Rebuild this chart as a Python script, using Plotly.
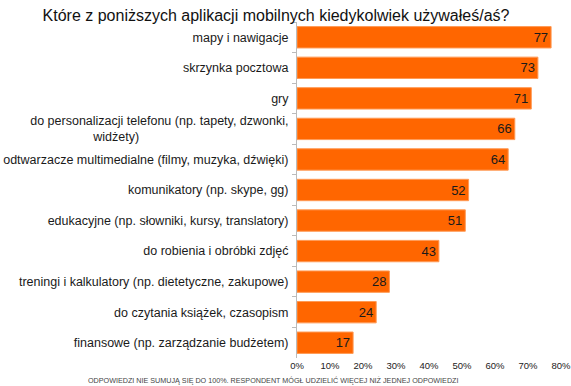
import plotly.graph_objects as go

categories = [
    "mapy i nawigacje",
    "skrzynka pocztowa",
    "gry",
    "do personalizacji telefonu (np. tapety, dzwonki,<br>widżety)",
    "odtwarzacze multimedialne (filmy, muzyka, dźwięki)",
    "komunikatory (np. skype, gg)",
    "edukacyjne (np. słowniki, kursy, translatory)",
    "do robienia i obróbki zdjęć",
    "treningi i kalkulatory (np. dietetyczne, zakupowe)",
    "do czytania książek, czasopism",
    "finansowe (np. zarządzanie budżetem)",
]
values = [77, 73, 71, 66, 64, 52, 51, 43, 28, 24, 17]
x_ticks = [0, 10, 20, 30, 40, 50, 60, 70, 80]
x_tick_labels = ["0%", "10%", "20%", "30%", "40%", "50%", "60%", "70%", "80%"]
title = "Które z poniższych aplikacji mobilnych kiedykolwiek używałeś/aś?"
footnote = "ODPOWIEDZI NIE SUMUJĄ SIĘ DO 100%. RESPONDENT MÓGŁ UDZIELIĆ WIĘCEJ NIŻ JEDNEJ ODPOWIEDZI"

# center the second line of the wrapped label
display_cats = [c.replace("<br>widżety)", "<br>widżety)" + "\u00a0" * 43) for c in categories]

fig = go.Figure(go.Bar(
    x=values,
    y=display_cats,
    orientation="h",
    marker=dict(color="#FF6600", line=dict(color="#FF9A55", width=1)),
    text=[str(v) for v in values],
    textposition="inside",
    insidetextanchor="end",
    textfont=dict(family="Liberation Sans, Arial", size=13, color="#1a1a1a"),
    cliponaxis=False,
))

L, R, T, B = 297, 10, 22, 28
fig.update_layout(
    width=571, height=386,
    margin=dict(l=L, r=R, t=T, b=B, autoexpand=False),
    paper_bgcolor="white", plot_bgcolor="white",
    bargap=0.3,
    showlegend=False,
    font=dict(family="Liberation Sans, Arial", color="#1a1a1a"),
    title=dict(text=title, x=276 / 571, xanchor="center", yref="container",
               y=1 - 20.5 / 386, yanchor="bottom", pad=dict(t=0, b=0),
               font=dict(size=16, color="#111111")),
    xaxis=dict(range=[0, 80.0001], tickvals=x_ticks, ticktext=x_tick_labels,
               showgrid=False, zeroline=False, showline=False, ticks="",
               automargin=False, ticklabeloverflow="allow",
               tickfont=dict(size=9.5, color="#222222"), fixedrange=True),
    yaxis=dict(categoryorder="array", categoryarray=display_cats, autorange="reversed",
               showline=True, linecolor="#BBBBBB", linewidth=1,
               ticks="outside", tickson="boundaries", ticklen=4, tickcolor="#BBBBBB",
               ticklabelstandoff=5, automargin=False,
               tickfont=dict(size=12.5, color="#1a1a1a"), showgrid=False),
    annotations=[dict(text=footnote, xref="paper", x=(273 - L) / (571 - L - R), xanchor="center",
                      yref="paper", y=-22 / (386 - T - B), yanchor="middle",
                      showarrow=False, font=dict(size=7.2, color="#444444"))],
)

fig.write_html("out.html", config={"displayModeBar": False},
               post_script="document.body.style.margin='0';document.body.style.padding='0';")
